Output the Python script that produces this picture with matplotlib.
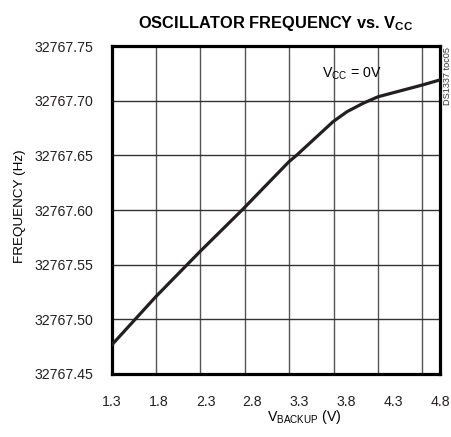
import numpy as np
import matplotlib
matplotlib.use("Agg")
import matplotlib.pyplot as plt
from matplotlib.ticker import FormatStrFormatter

plt.rcParams['font.family'] = ['Liberation Sans', 'DejaVu Sans']
plt.rcParams['mathtext.fontset'] = 'custom'
plt.rcParams['mathtext.rm'] = 'Liberation Sans'
plt.rcParams['mathtext.bf'] = 'Liberation Sans:bold'

# curve
v_backup = [1.3, 1.55, 1.77, 2.24, 2.69, 3.19, 3.27, 3.66, 3.81, 3.98, 4.14, 4.61, 4.8]
freq = [32767.4765, 32767.500, 32767.5207, 32767.5619, 32767.600, 32767.6442,
        32767.650, 32767.6808, 32767.690, 32767.6976, 32767.7036, 32767.7143, 32767.719]

x_ticks = [1.3, 1.8, 2.3, 2.8, 3.3, 3.8, 4.3, 4.8]
y_ticks = [32767.45, 32767.50, 32767.55, 32767.60, 32767.65, 32767.70, 32767.75]

fig = plt.figure(figsize=(4.51, 4.37), dpi=100)
ax = fig.add_axes([0.2477, 0.1442, 0.7279, 0.7505])

# the scanned grid is a bit narrower than the tick spacing
grid_x = 1.3 + 0.4733 * np.arange(1, 8)
for gx in grid_x:
    ax.axvline(gx, color='#555555', lw=1.0, zorder=1)
for gy in y_ticks[1:-1]:
    ax.axhline(gy, color='#333333', lw=1.0, zorder=1)

ax.plot(v_backup, freq, color='#231f20', lw=2.3, zorder=3)

ax.set_xlim(1.3, 4.8)
ax.set_ylim(32767.45, 32767.75)
ax.set_xticks(x_ticks)
ax.set_yticks(y_ticks)
ax.yaxis.set_major_formatter(FormatStrFormatter('%.2f'))
ax.xaxis.set_major_formatter(FormatStrFormatter('%.1f'))
ax.tick_params(length=0, labelsize=10.2, colors='#231f20')
ax.tick_params(axis='y', pad=13.5)
ax.tick_params(axis='x', pad=15)
for s in ax.spines.values():
    s.set_linewidth(2.3)
    s.set_color('black')

ax.set_title(r'OSCILLATOR FREQUENCY vs. V$_{\mathbf{CC}}$', fontsize=11.8,
             fontweight='bold', pad=13)
ax.set_xlabel(r'V$_{\mathrm{BACKUP}}$ (V)', fontsize=10.2)
ax.xaxis.set_label_coords(0.586, -0.104)
ax.xaxis.label.set_va('top')
ax.text(-0.279, 0.512, 'FREQUENCY (Hz)', transform=ax.transAxes, rotation=90,
        ha='center', va='center', fontsize=9.7)
ax.text(3.86, 32767.725, r'V$_{\mathrm{CC}}$ = 0V', ha='center', va='center',
        fontsize=10.2)
fig.text(0.992, 0.826, 'DS1337 toc05', rotation=90, ha='center', va='center',
         fontsize=6.6, color='#333333')

fig.savefig('out.png', dpi=100)
